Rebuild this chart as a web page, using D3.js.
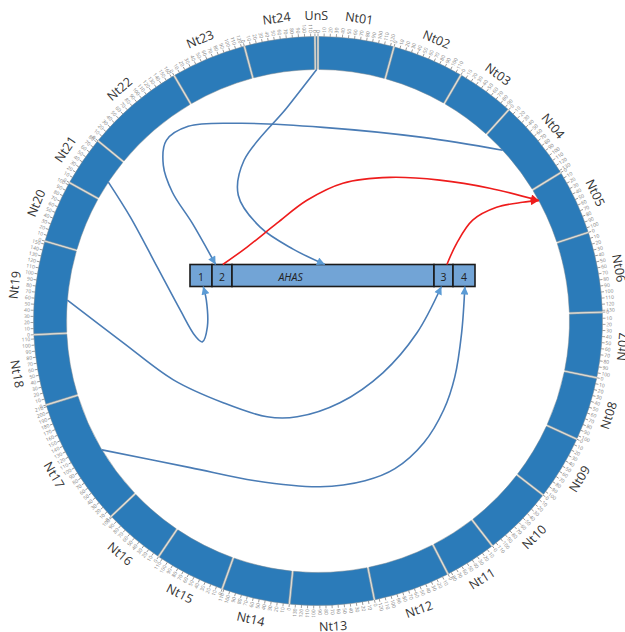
<!DOCTYPE html>
<html>
<head>
<meta charset="utf-8">
<script src="https://cdn.jsdelivr.net/npm/d3@7"></script>
<style>
  html, body { margin: 0; padding: 0; background: #fff; }
  svg { display: block; }
</style>
</head>
<body>
<svg id="chart" width="625" height="632"></svg>
<script>
// ---- Karyotype: chromosome names and lengths (Mb) ----
const chromosomes = ["Nt01","Nt02","Nt03","Nt04","Nt05","Nt06","Nt07","Nt08","Nt09","Nt10",
                     "Nt11","Nt12","Nt13","Nt14","Nt15","Nt16","Nt17","Nt18","Nt19","Nt20",
                     "Nt21","Nt22","Nt23","Nt24","UnS"];
const chromSizes = [126,119,97,134,108,133,108,106,107,118,
                    86,128,140,113,117,102,213,117,155,104,
                    83,165,125,117,5];
const tickStep = 10;

// ---- AHAS gene model: parts and their relative lengths ----
const geneParts = ["1","2","AHAS","3","4"];
const genePartLengths = [22,20,202,19,22];

// ---- Links between genome loci and gene parts ----
const linkChrom   = ["UnS","Nt04","Nt21","Nt19","Nt17","Nt05","Nt05"];
const linkPosMb   = [2.5, 42, 36, 61, 102, 23, 23];
const linkPart    = ["AHAS","2","1","3","4","2","3"];
const linkPartAt  = [0.46, 0.18, 0.60, 0.39, 0.54, 0.54, 0.68];   // fraction along the part
const linkSide    = ["top","top","bottom","bottom","bottom","top","top"];
const linkToGene  = [true, true, true, true, true, false, false];  // arrow direction
const linkGroup   = ["blue","blue","blue","blue","blue","red","red"];

// ---------------------------------------------------------------
const svg = d3.select("#chart");
const cx = 318, cy = 321;
const rIn = 251.5, rOut = 284.5;

const total = d3.sum(chromSizes);
const angle = d3.scaleLinear().domain([0, total]).range([0, 2 * Math.PI]);
const offsets = [];
chromSizes.reduce((acc, s, i) => { offsets[i] = acc; return acc + s; }, 0);
const chromIndex = new Map(chromosomes.map((c, i) => [c, i]));

const polar = (a, r) => [cx + r * Math.sin(a), cy - r * Math.cos(a)];

// Ring background (shows through the gaps)
const ring = svg.append("g").attr("transform", `translate(${cx},${cy})`);
ring.append("path")
  .attr("d", d3.arc().innerRadius(rIn).outerRadius(rOut).startAngle(0).endAngle(2 * Math.PI)())
  .attr("fill", "#e2ded4");

const arc = d3.arc().innerRadius(rIn).outerRadius(rOut).padAngle(0.0052);
ring.selectAll("path.chr")
  .data(chromosomes.map((c, i) => ({ name: c, start: angle(offsets[i]), end: angle(offsets[i] + chromSizes[i]) })))
  .join("path")
  .attr("class", "chr")
  .attr("d", d => arc({ startAngle: d.start, endAngle: d.end }))
  .attr("fill", "#2b7bb9")
  .attr("stroke", "#7d8c99")
  .attr("stroke-width", 0.5);

// Ticks every 10 Mb with labels
const ticks = [];
chromosomes.forEach((c, i) => {
  for (let v = 0; v < chromSizes[i]; v += tickStep) {
    ticks.push({ v, a: angle(offsets[i] + v) });
  }
});
const tg = ring.selectAll("g.tick").data(ticks).join("g")
  .attr("class", "tick")
  .attr("transform", d => `rotate(${d.a * 180 / Math.PI - 90})`);
tg.append("line")
  .attr("x1", rOut).attr("x2", rOut + 3)
  .attr("stroke", "#7a7a7a").attr("stroke-width", 0.7);
tg.append("text")
  .attr("transform", d => d.a > Math.PI
      ? `translate(${rOut + 3.8},0) rotate(180)`
      : `translate(${rOut + 3.8},0)`)
  .attr("text-anchor", d => d.a > Math.PI ? "end" : "start")
  .attr("dy", "0.35em")
  .attr("font-family", "Open Sans, sans-serif")
  .attr("font-size", 5)
  .attr("fill", "#7f7f7f")
  .text(d => d.v);

// Chromosome names, tangential and kept upright
const rLabel = 305.5;
svg.append("g").selectAll("text")
  .data(chromosomes.map((c, i) => ({ name: c, a: angle(offsets[i] + chromSizes[i] / 2) })))
  .join("text")
  .attr("transform", d => {
    const [x, y] = polar(d.a, rLabel);
    let deg = d.a * 180 / Math.PI;
    if (deg > 90 && deg < 270) deg -= 180;
    return `translate(${x},${y}) rotate(${deg})`;
  })
  .attr("text-anchor", "middle")
  .attr("dominant-baseline", "central")
  .attr("font-family", "Open Sans, sans-serif")
  .attr("font-size", 12.5)
  .attr("fill", "#333")
  .text(d => d.name);

// ---- Gene model ----
const geneTotal = d3.sum(genePartLengths);
const gx = d3.scaleLinear().domain([0, geneTotal]).range([190, 475]);
const geneTop = 264.5, geneH = 22;
const partStart = [];
genePartLengths.reduce((acc, l, i) => { partStart[i] = acc; return acc + l; }, 0);
const partIndex = new Map(geneParts.map((p, i) => [p, i]));

const gene = svg.append("g");
gene.selectAll("rect")
  .data(geneParts.map((p, i) => ({ p, s: partStart[i], l: genePartLengths[i] })))
  .join("rect")
  .attr("x", d => gx(d.s)).attr("y", geneTop)
  .attr("width", d => gx(d.s + d.l) - gx(d.s)).attr("height", geneH)
  .attr("fill", "#72a4d6")
  .attr("stroke", "#1b1b1b").attr("stroke-width", 1.6);
gene.selectAll("text")
  .data(geneParts.map((p, i) => ({ p, s: partStart[i], l: genePartLengths[i] })))
  .join("text")
  .attr("x", d => d.p === "AHAS" ? gx(d.s + d.l * 0.29) : gx(d.s + d.l / 2))
  .attr("y", geneTop + geneH / 2 + 1)
  .attr("text-anchor", "middle")
  .attr("dominant-baseline", "central")
  .attr("font-family", "Open Sans, sans-serif")
  .attr("font-size", 10.5)
  .attr("font-style", d => d.p === "AHAS" ? "italic" : "normal")
  .attr("fill", "#222")
  .text(d => d.p);

// ---- Links ----
const colours = { blue: "#4a7cb5", red: "#ee1c1c" };
const headColours = { blue: "#5b9bd5", red: "#ee1c1c" };
const defs = svg.append("defs");
Object.keys(colours).forEach(k => {
  defs.append("marker")
    .attr("id", "arrow-" + k)
    .attr("viewBox", "0 -5 10 10")
    .attr("refX", 10).attr("refY", 0)
    .attr("markerUnits", "userSpaceOnUse")
    .attr("markerWidth", 9).attr("markerHeight", 8)
    .attr("orient", "auto")
    .append("path").attr("d", "M0,-5L10,0L0,5Z").attr("fill", headColours[k]);
});

// Routing handles, in units of the inner radius relative to the circle centre
const linkRoutes = [
  [[-0.123,-0.849],[-0.294,-0.639],[-0.317,-0.500],[-0.230,-0.373],[-0.099,-0.286]],
  [[0.417,-0.730],[0.020,-0.770],[-0.310,-0.786],[-0.516,-0.774],[-0.603,-0.718],[-0.615,-0.619],[-0.579,-0.512],[-0.500,-0.389]],
  [[-0.746,-0.413],[-0.639,-0.214],[-0.548,-0.044],[-0.488,0.060],[-0.460,0.083],[-0.440,0.024],[-0.444,-0.083]],
  [[-0.774,0.087],[-0.575,0.234],[-0.377,0.325],[-0.202,0.381],[-0.083,0.381],[0.087,0.325],[0.258,0.206],[0.393,0.048]],
  [[-0.508,0.583],[-0.250,0.635],[0.008,0.659],[0.187,0.635],[0.306,0.587],[0.421,0.484],[0.500,0.353],[0.544,0.222],[0.571,0.048]],
  [[-0.282,-0.294],[-0.163,-0.389],[-0.044,-0.480],[0.099,-0.548],[0.286,-0.571],[0.484,-0.560],[0.683,-0.528]],
  [[0.552,-0.310],[0.615,-0.401],[0.710,-0.452],[0.813,-0.472]]
];
const ux = d3.scaleLinear().domain([-1, 1]).range([cx - rIn, cx + rIn]);
const uy = d3.scaleLinear().domain([-1, 1]).range([cy - rIn, cy + rIn]);
const curve = d3.line().curve(d3.curveCatmullRom.alpha(0.5));

const links = linkChrom.map((c, i) => {
  const ci = chromIndex.get(c);
  const a = angle(offsets[ci] + linkPosMb[i]);
  const ringPt = polar(a, rIn);
  const pi = partIndex.get(linkPart[i]);
  const gxPt = gx(partStart[pi] + genePartLengths[pi] * linkPartAt[i]);
  const genePt = [gxPt, linkSide[i] === "top" ? geneTop : geneTop + geneH];
  const via = linkRoutes[i].map(([u, v]) => [ux(u), uy(v)]);
  const pts = linkToGene[i]
    ? [ringPt, ...via, genePt]
    : [genePt, ...via, ringPt];
  return { pts, group: linkGroup[i] };
});

svg.append("g").selectAll("path")
  .data(links)
  .join("path")
  .attr("d", d => curve(d.pts))
  .attr("fill", "none")
  .attr("stroke", d => colours[d.group])
  .attr("stroke-width", 1.6)
  .attr("marker-end", d => `url(#arrow-${d.group})`);
</script>
</body>
</html>
